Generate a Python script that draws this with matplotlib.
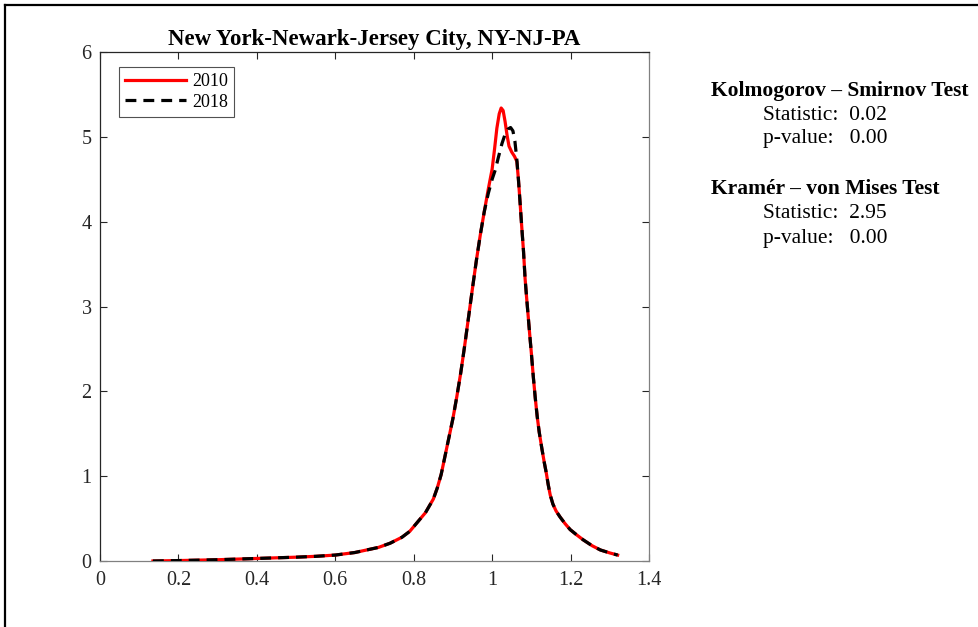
import matplotlib.pyplot as plt
from matplotlib.lines import Line2D

# Density values (2010 vs 2018)
x_2010 = [0.135, 0.2, 0.3, 0.4, 0.5, 0.55, 0.6, 0.65, 0.68, 0.71,
          0.74, 0.77, 0.79, 0.81, 0.83, 0.85, 0.86, 0.87, 0.88, 0.89,
          0.90, 0.91, 0.92, 0.93, 0.94, 0.95, 0.96, 0.97, 0.98, 0.99,
          1.00, 1.006, 1.012, 1.018, 1.023, 1.028, 1.033, 1.038, 1.043, 1.05,
          1.057, 1.063, 1.067, 1.071, 1.075, 1.080, 1.084, 1.088, 1.092, 1.096,
          1.100, 1.105, 1.110, 1.115, 1.120, 1.127, 1.133, 1.138, 1.143, 1.148,
          1.155, 1.163, 1.173, 1.186, 1.199, 1.215, 1.232, 1.255, 1.276, 1.30,
          1.32]
y_2010 = [0.0, 0.005, 0.015, 0.03, 0.045, 0.055, 0.07, 0.10, 0.13, 0.16,
          0.21, 0.28, 0.35, 0.46, 0.57, 0.73, 0.86, 1.02, 1.24, 1.46,
          1.68, 1.94, 2.22, 2.54, 2.88, 3.22, 3.55, 3.85, 4.12, 4.38,
          4.62, 4.85, 5.10, 5.27, 5.34, 5.31, 5.18, 5.02, 4.89, 4.82,
          4.77, 4.71, 4.50, 4.24, 3.97, 3.65, 3.33, 3.10, 2.88, 2.66,
          2.45, 2.17, 1.92, 1.70, 1.52, 1.32, 1.16, 1.04, 0.90, 0.78,
          0.67, 0.59, 0.52, 0.44, 0.37, 0.31, 0.25, 0.18, 0.13, 0.095,
          0.07]

x_2018 = [0.135, 0.2, 0.3, 0.4, 0.5, 0.55, 0.6, 0.65, 0.68, 0.71,
          0.74, 0.77, 0.79, 0.81, 0.83, 0.85, 0.86, 0.87, 0.88, 0.89,
          0.90, 0.91, 0.92, 0.93, 0.94, 0.95, 0.96, 0.97, 0.98, 0.99,
          1.00, 1.008, 1.016, 1.025, 1.033, 1.04, 1.047, 1.053, 1.058, 1.063,
          1.067, 1.071, 1.075, 1.080, 1.084, 1.088, 1.092, 1.096,
          1.100, 1.105, 1.110, 1.115, 1.120, 1.127, 1.133, 1.138, 1.143, 1.148,
          1.155, 1.163, 1.173, 1.186, 1.199, 1.215, 1.232, 1.255, 1.276, 1.30,
          1.32]
y_2018 = [0.0, 0.005, 0.015, 0.03, 0.045, 0.055, 0.07, 0.10, 0.13, 0.16,
          0.21, 0.28, 0.35, 0.46, 0.57, 0.73, 0.86, 1.02, 1.24, 1.46,
          1.68, 1.94, 2.22, 2.54, 2.88, 3.22, 3.55, 3.85, 4.12, 4.33,
          4.50, 4.61, 4.76, 4.92, 5.03, 5.09, 5.11, 5.07, 4.95, 4.73,
          4.50, 4.24, 3.97, 3.65, 3.33, 3.10, 2.88, 2.66,
          2.45, 2.17, 1.92, 1.70, 1.52, 1.32, 1.16, 1.04, 0.90, 0.78,
          0.67, 0.59, 0.52, 0.44, 0.37, 0.31, 0.25, 0.18, 0.13, 0.095,
          0.07]

x_ticks = [0, 0.2, 0.4, 0.6, 0.8, 1, 1.2, 1.4]
x_tick_labels = ['0', '0.2', '0.4', '0.6', '0.8', '1', '1.2', '1.4']
y_ticks = [0, 1, 2, 3, 4, 5, 6]

title = 'New York-Newark-Jersey City, NY-NJ-PA'
ks_stat, ks_p = 0.02, 0.00
cvm_stat, cvm_p = 2.95, 0.00

plt.rcParams['font.family'] = ['Liberation Serif', 'DejaVu Serif']

fig = plt.figure(figsize=(9.79, 6.27), dpi=100)
ax = fig.add_axes([100 / 979, 66 / 627, 549 / 979, 509 / 627])

ax.plot(x_2010, y_2010, color='#ff0000', lw=2.3, label='2010',
        solid_joinstyle='round', zorder=3)
ax.plot(x_2018, y_2018, color='black', lw=2.3, dashes=(3.4, 2.2),
        label='2018', zorder=4)

ax.set_xlim(0, 1.4)
ax.set_ylim(0, 6)
ax.set_xticks(x_ticks)
ax.set_xticklabels(x_tick_labels)
ax.set_yticks(y_ticks)
ax.tick_params(direction='in', top=True, right=True, length=5, width=0.8,
               labelsize=14.5, colors='#262626')
ax.tick_params(axis='x', pad=7)
ax.tick_params(axis='y', pad=6)
for side in ['left', 'top']:
    ax.spines[side].set_color('#262626')
for side in ['bottom', 'right']:
    ax.spines[side].set_color('#808080')
for sp in ax.spines.values():
    sp.set_linewidth(0.9)

ax.set_title(title, fontsize=16.5, fontweight='bold', pad=5)

leg = ax.legend(loc='upper left', bbox_to_anchor=(0.034, 0.971), fontsize=13,
                frameon=True, fancybox=False, handlelength=3.4,
                handletextpad=0.3, borderpad=0.35, labelspacing=0.2,
                borderaxespad=0)
leg.get_frame().set_edgecolor('#262626')
leg.get_frame().set_linewidth(0.8)

# test statistics text block on the right
fs = 15.5
fig.text(711 / 979, 1 - 91 / 627, 'Kolmogorov \u2013 Smirnov Test',
         fontsize=fs, fontweight='bold', va='center', ha='left')
fig.text(763 / 979, 1 - 116 / 627, f'Statistic:  {ks_stat:.2f}',
         fontsize=fs, va='center', ha='left')
fig.text(763 / 979, 1 - 139 / 627, f'p-value:   {ks_p:.2f}',
         fontsize=fs, va='center', ha='left')
fig.text(711 / 979, 1 - 189 / 627, 'Kram\u00e9r \u2013 von Mises Test',
         fontsize=fs, fontweight='bold', va='center', ha='left')
fig.text(763 / 979, 1 - 213 / 627, f'Statistic:  {cvm_stat:.2f}',
         fontsize=fs, va='center', ha='left')
fig.text(763 / 979, 1 - 238 / 627, f'p-value:   {cvm_p:.2f}',
         fontsize=fs, va='center', ha='left')

# outer frame lines (top and left edges)
fig.add_artist(Line2D([5 / 979, 1], [1 - 5 / 627, 1 - 5 / 627],
                      color='black', lw=1.6, transform=fig.transFigure))
fig.add_artist(Line2D([5 / 979, 5 / 979], [0, 1 - 5 / 627],
                      color='black', lw=1.6, transform=fig.transFigure))

fig.savefig('out.png', dpi=100)
